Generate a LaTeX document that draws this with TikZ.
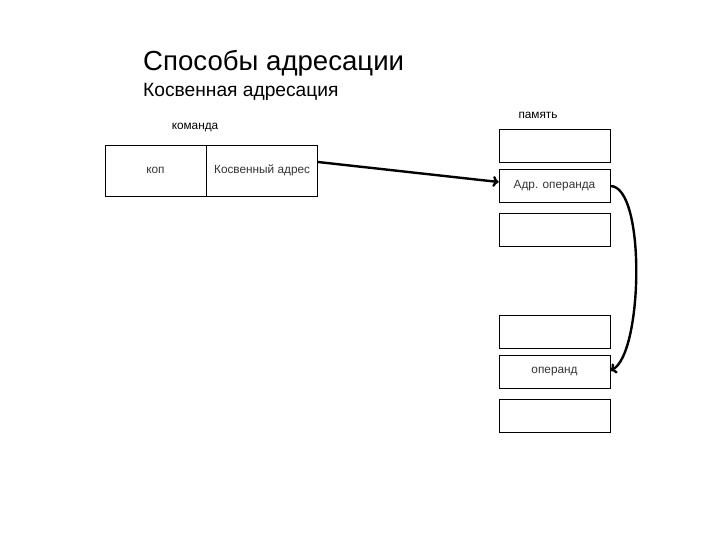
\documentclass[tikz,border=0pt]{standalone}
\usepackage{fontspec}
\setmainfont{Liberation Sans}
\usetikzlibrary{arrows.meta, positioning}
\tikzset{
  cell/.style={draw, line width=0.6pt, minimum width=111pt, minimum height=33pt, inner sep=0pt, text=black!80, font=\fontsize{11.8}{14}\selectfont},
  field/.style={draw, line width=0.6pt, minimum height=51pt, inner sep=0pt, text=black!80, font=\fontsize{11.8}{14}\selectfont},
  ptr/.style={-{To[length=6pt,width=11pt]}, line width=2.4pt},
  caption/.style={inner sep=0pt, font=\fontsize{11.8}{14}\selectfont}
}

\begin{document}
\begin{tikzpicture}[x=1pt, y=-1pt]
  \useasboundingbox (0,0) rectangle (720,540);

  \node[anchor=base west, inner sep=0pt, font=\fontsize{27.6}{30}\selectfont] (title) at (143,71) {Способы адресации};
  \node[anchor=base west, inner sep=0pt, font=\fontsize{19.2}{22}\selectfont] (subtitle) at (143,97) {Косвенная адресация};

  % command word
  \node[field, minimum width=101pt] (kop) at (155.5,170.5) {коп};
  \node[field, minimum width=111pt, right=0pt of kop] (adr) {Косвенный адрес};
  \node[caption] (cmd) at (195,128) {команда};

  % memory
  \foreach \i/\y/\txt in {1/145.5/, 2/186/Адр. операнда, 3/229.5/, 4/331.5/, 5/371.5/операнд, 6/416/}
    \node[cell] (m\i) at (554.5,\y) {\txt};
  \node[caption] (mem) at (538,115) {память};

  \draw[ptr] ([yshift=8.5pt]adr.east) -- ([yshift=4pt]m2.west);
  \draw[ptr] (m2.east) to[out=0, in=25, looseness=0.5] ([yshift=1pt]m5.east);

\end{tikzpicture}
\end{document}
